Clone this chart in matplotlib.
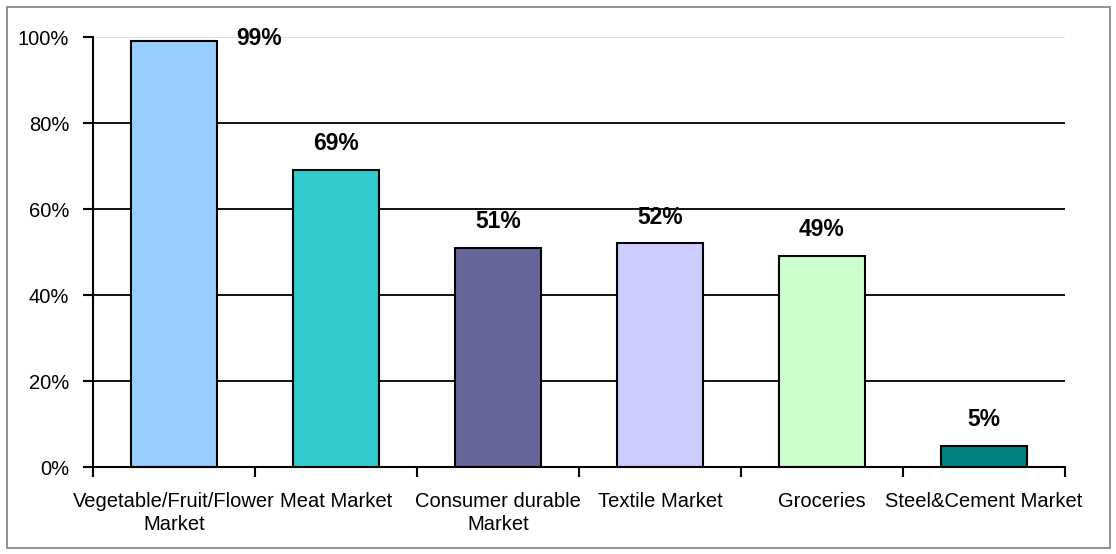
import matplotlib.pyplot as plt
from matplotlib.patches import Rectangle

categories = ["Vegetable/Fruit/Flower\nMarket", "Meat Market", "Consumer durable\nMarket",
              "Textile Market", "Groceries", "Steel&Cement Market"]
shares = [99, 69, 51, 52, 49, 5]
bar_colors = ["#99CCFF", "#33CCCC", "#666699", "#CCCCFF", "#CCFFCC", "#008080"]
yticks = [0, 20, 40, 60, 80, 100]

plt.rcParams["font.family"] = ["Liberation Sans", "DejaVu Sans"]

fig = plt.figure(figsize=(11.16, 5.54), dpi=100)
ax = fig.add_axes([0.0833, 0.1570, 0.8710, 0.7760])

# gridlines: black, except the top one which is faint
for y in yticks[1:]:
    ax.axhline(y, color="#DDDDDD" if y == 100 else "black", lw=1.3, zorder=0)

x = list(range(len(categories)))
bars = ax.bar(x, shares, width=0.53, color=bar_colors, edgecolor="black", lw=1.5, zorder=2)

for i, (b, v) in enumerate(zip(bars, shares)):
    if i == 0:
        ax.annotate(f"{v}%", (b.get_x() + b.get_width() / 2, v), xytext=(61, 2),
                    textcoords="offset points", ha="center", va="center",
                    fontsize=16.5, fontweight="bold")
    else:
        ax.annotate(f"{v}%", (b.get_x() + b.get_width() / 2, v), xytext=(0, 19),
                    textcoords="offset points", ha="center", va="center",
                    fontsize=16.5, fontweight="bold")

ax.set_xlim(-0.5, len(categories) - 0.5)
ax.set_ylim(0, 100)
ax.set_yticks(yticks)
ax.set_yticklabels([f"{t}%" for t in yticks], fontsize=14.5)
ax.set_xticks(x)
ax.set_xticklabels(categories, fontsize=14.5, linespacing=1.25)
ax.set_xticks([i - 0.5 for i in range(len(categories) + 1)], minor=True)
ax.tick_params(axis="x", which="major", length=0, pad=18)
ax.tick_params(axis="x", which="minor", length=7, width=1.5, direction="out")
ax.tick_params(axis="y", length=7, width=1.5, pad=10)

for s in ["top", "right"]:
    ax.spines[s].set_visible(False)
for s in ["left", "bottom"]:
    ax.spines[s].set_linewidth(1.5)

# thin frame around the whole chart
fig.patches.append(Rectangle((7 / 1116, 6 / 554), 1103 / 1116, 541 / 554,
                             transform=fig.transFigure, fill=False,
                             edgecolor="#808080", lw=1.2))

fig.savefig("out.png", dpi=100)
